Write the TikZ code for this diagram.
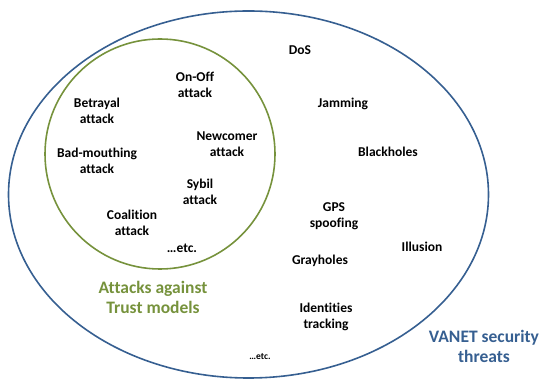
\documentclass[tikz,border=0pt]{standalone}
\usepackage{fontspec}
\setmainfont[Ligatures=NoCommon]{Carlito}
\definecolor{vanetblue}{HTML}{365F91}
\definecolor{trustgreen}{HTML}{76923C}
\begin{document}
\begin{tikzpicture}[x=1pt,y=-1pt,
  item/.style={font=\bfseries\fontsize{13.5}{16}\selectfont, align=center, inner sep=0pt, text=black},
  small/.style={font=\bfseries\fontsize{9.5}{11}\selectfont, inner sep=0pt},
  title/.style={font=\bfseries\fontsize{17.5}{20}\selectfont, align=center, inner sep=0pt}]
\useasboundingbox (0,0) rectangle (539,379);
% outer set: VANET security threats
\draw[vanetblue, line width=1.6pt] (248.5,194.5) ellipse [x radius=240, y radius=183.5];
% inner set: attacks against trust models
\draw[trustgreen, line width=1.6pt] (160,154) circle [radius=115];

\node[item] (onoff) at (195,85) {On-Off\\attack};
\node[item] (betrayal) at (97,111) {Betrayal\\attack};
\node[item] (newcomer) at (227,144) {Newcomer\\attack};
\node[item] (badmouth) at (97,160.5) {Bad-mouthing\\attack};
\node[item] (sybil) at (200,192) {Sybil\\attack};
\node[item] (coalition) at (132,223) {Coalition\\attack};
\node[item] (etcin) at (182,248) {\dots etc.};
\node[title, text=trustgreen] (trust) at (153,297) {Attacks against\\Trust models};

\node[item] (dos) at (300,50) {DoS};
\node[item] (jamming) at (343,104) {Jamming};
\node[item] (blackholes) at (388,152) {Blackholes};
\node[item] (gps) at (334,216) {GPS\\spoofing};
\node[item] (illusion) at (422,247) {Illusion};
\node[item] (grayholes) at (320,261) {Grayholes};
\node[item] (identities) at (326,317) {Identities\\tracking};
\node[small] (etcout) at (260,357) {\dots etc.};
\node[title, text=vanetblue] (vanet) at (484,346.5) {VANET security\\threats};
\end{tikzpicture}
\end{document}
